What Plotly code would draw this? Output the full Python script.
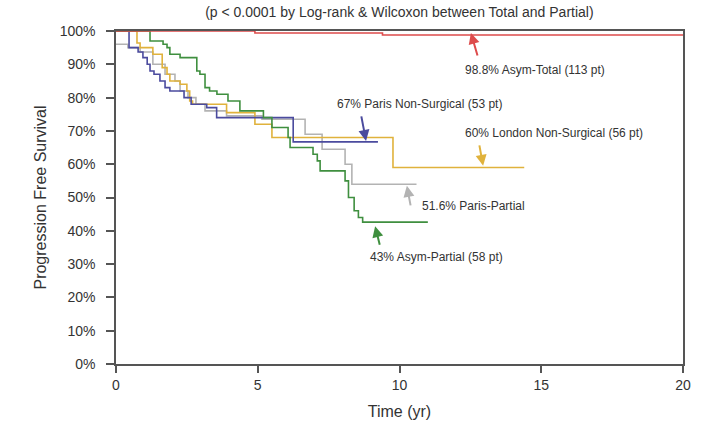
import plotly.graph_objects as go

# ---- data ----
total_t = [0, 4.9, 9.4, 20.0]
total_s = [100, 99.4, 98.8, 98.8]

paris_ns_t = [0, 0.46, 0.78, 0.95, 1.1, 1.2, 1.34, 1.55, 1.73, 1.9, 2.4, 2.65, 3.2, 3.55, 6.25, 9.24]
paris_ns_s = [100, 95, 93.7, 92, 90, 88, 87, 85, 83, 82, 80, 78, 77, 74, 66.7, 66.7]

london_ns_t = [0, 0.74, 0.85, 1.3, 1.63, 1.8, 1.9, 2.26, 2.5, 2.6, 2.7, 3.9, 4.9, 5.5, 9.77, 14.4]
london_ns_s = [100, 96.4, 95, 93, 89, 87, 85, 84, 82, 79, 78, 75.5, 72, 68, 59, 59]

paris_p_t = [0, 0.42, 0.85, 1.3, 1.73, 2.08, 2.26, 2.54, 2.82, 3.14, 3.9, 5.15, 6.67, 7.27, 8.08, 8.32, 10.6]
paris_p_s = [96, 95, 93.7, 90, 87, 85, 82, 80, 78, 76, 74.5, 73.5, 69, 64.5, 60, 54, 54]

asym_p_t = [0, 1.2, 1.66, 1.8, 1.9, 2.26, 2.85, 2.96, 3.14, 3.3, 3.56, 3.95, 4.37, 5.2, 5.5,
            6.07, 6.14, 6.95, 7.1, 7.2, 8.08, 8.2, 8.4, 8.55, 8.7, 11.0]
asym_p_s = [100, 97, 96, 95, 93, 92, 88, 87, 83, 82, 81, 79, 76, 74, 71,
            68, 65, 63, 61, 58, 55, 50, 46, 44, 42.6, 42.6]

y_ticks = [0, 10, 20, 30, 40, 50, 60, 70, 80, 90, 100]
y_tick_labels = [f"{v}%" for v in y_ticks]
x_ticks = [0, 5, 10, 15, 20]

labels = ["98.8% Asym-Total (113 pt)", "67% Paris Non-Surgical (53 pt)",
          "60% London Non-Surgical (56 pt)", "51.6% Paris-Partial", "43% Asym-Partial (58 pt)"]
# arrow tips (data coords) and label anchors (data coords)
tip_x = [12.52, 8.82, 12.95, 10.26, 9.14]
tip_y = [99.4, 67.0, 59.5, 53.5, 41.4]
lab_x = [12.24, 7.72, 12.24, 10.72, 8.89]
lab_y = [88.3, 78.1, 69.4, 47.4, 32.1]

# ---- styling ----
colors = ["#dd4b4b", "#4b4b9e", "#e0b23c", "#b3b3b3", "#3f8f3f"]
tail_dx = [7, -5, -4, 4, 5]
tail_dy = [24, -26, -22, 21, 20]

fig = go.Figure()
series = [(total_t, total_s), (paris_ns_t, paris_ns_s), (london_ns_t, london_ns_s),
          (paris_p_t, paris_p_s), (asym_p_t, asym_p_s)]
order = [3, 2, 1, 4, 0]
for i in order:
    t, s = series[i]
    fig.add_trace(go.Scatter(x=t, y=s, mode="lines", line=dict(color=colors[i], width=1.6, shape="hv"),
                             name=labels[i], showlegend=False, hoverinfo="skip"))

for i in range(5):
    fig.add_annotation(x=tip_x[i], y=tip_y[i], xref="x", yref="y", text="", showarrow=True,
                       arrowhead=2, arrowsize=1.1, arrowwidth=2, arrowcolor=colors[i],
                       ax=tail_dx[i], ay=tail_dy[i])
    fig.add_annotation(x=lab_x[i], y=lab_y[i], xref="x", yref="y", text=labels[i], showarrow=False,
                       xanchor="left", yanchor="middle",
                       font=dict(family="Liberation Sans, Arial, sans-serif", size=12, color="#333333"))

fig.update_layout(
    width=710, height=424,
    margin=dict(l=116, r=27, t=31, b=60),
    paper_bgcolor="white", plot_bgcolor="white",
    font=dict(family="Liberation Sans, Arial, sans-serif", color="#333333"),
    title=dict(text="(p < 0.0001 by Log-rank & Wilcoxon between Total and Partial)",
               x=0.5625, xanchor="center", y=0.972, yanchor="middle", yref="container",
               font=dict(size=14, color="#333333")),
)
fig.update_xaxes(range=[0, 20], tickvals=x_ticks, ticks="outside", ticklen=7, tickwidth=1.5,
                 tickcolor="#555555", showline=True, linecolor="#555555", linewidth=1.5, mirror=True,
                 showgrid=False, zeroline=False, tickfont=dict(size=14), automargin=False,
                 title=dict(text="Time (yr)", font=dict(size=16), standoff=14))
fig.update_yaxes(range=[0, 100], tickvals=y_ticks, ticktext=y_tick_labels, ticks="outside", ticklen=8,
                 tickwidth=1.5, tickcolor="#555555", showline=True, linecolor="#555555", linewidth=1.5,
                 mirror=True, showgrid=False, zeroline=False, tickfont=dict(size=14), automargin=False,
                 ticklabelstandoff=8,
                 title=dict(text="Progression Free Survival", font=dict(size=16), standoff=9))

fig.write_html("out.html", config={"displayModeBar": False},
               post_script="document.body.style.margin='0';")
